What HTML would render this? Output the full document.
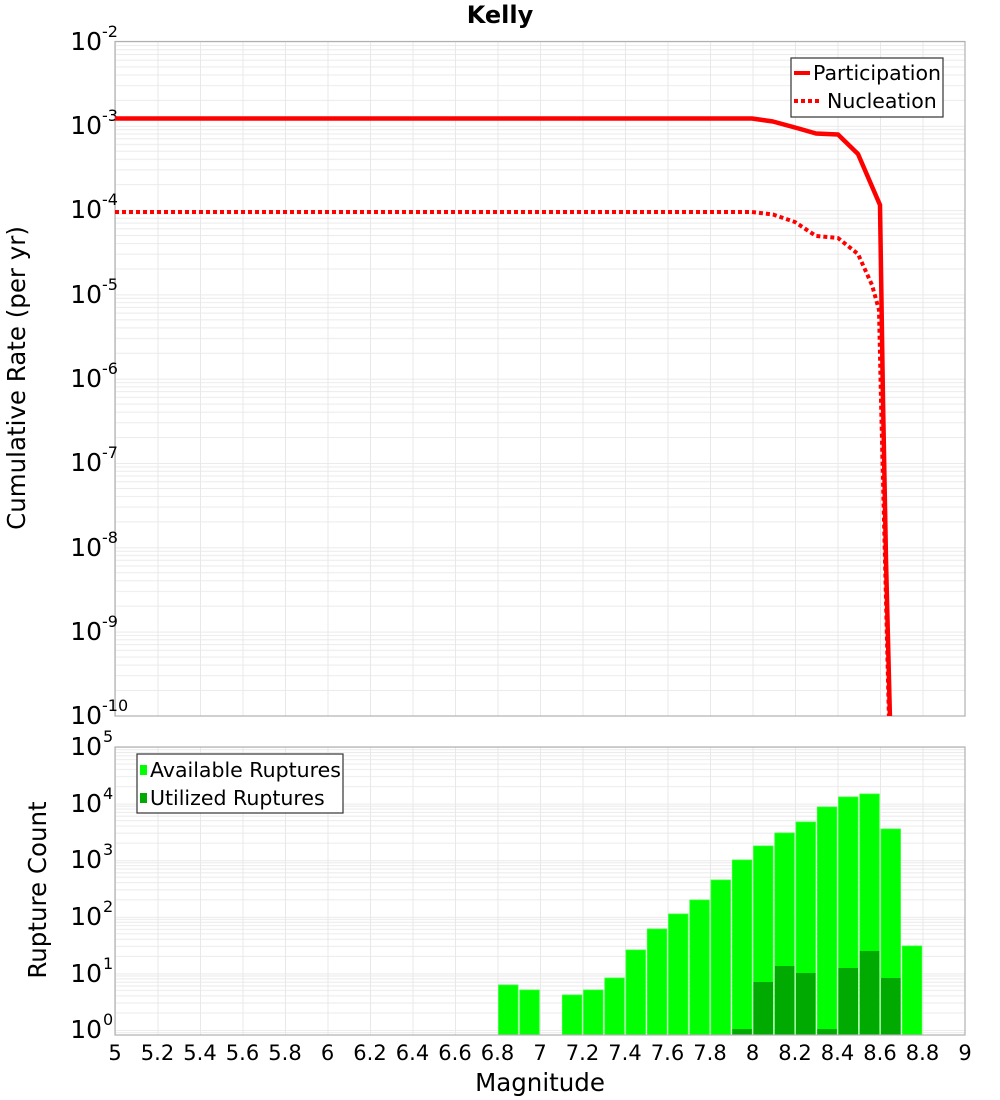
<!DOCTYPE html>
<html><head><meta charset="utf-8"><style>
html,body{margin:0;padding:0;background:#fff;}
svg{display:block;font-family:"DejaVu Sans","Liberation Sans",sans-serif;}
</style></head><body>
<svg width="1000" height="1100" viewBox="0 0 1000 1100" xmlns="http://www.w3.org/2000/svg">
<defs>
<pattern id="vg" patternUnits="userSpaceOnUse" x="115" y="0" width="42.5" height="10">
<line x1="0.5" y1="0" x2="0.5" y2="10" stroke="#e8e8e8" stroke-width="1"/>
</pattern>
<pattern id="hgt" patternUnits="userSpaceOnUse" x="0" y="41.5" width="10" height="84.3">
<g stroke="#ebebeb" stroke-width="1">
<line x1="0" y1="0.5" x2="10" y2="0.5"/><line x1="0" y1="3.9" x2="10" y2="3.9"/><line x1="0" y1="8.2" x2="10" y2="8.2"/><line x1="0" y1="13" x2="10" y2="13"/><line x1="0" y1="18.7" x2="10" y2="18.7"/><line x1="0" y1="25.4" x2="10" y2="25.4"/><line x1="0" y1="33.5" x2="10" y2="33.5"/><line x1="0" y1="44.1" x2="10" y2="44.1"/><line x1="0" y1="58.9" x2="10" y2="58.9"/>
</g></pattern>
<pattern id="hgb" patternUnits="userSpaceOnUse" x="0" y="747" width="10" height="56.6">
<g stroke="#ebebeb" stroke-width="1">
<line x1="0" y1="0.5" x2="10" y2="0.5"/><line x1="0" y1="2.6" x2="10" y2="2.6"/><line x1="0" y1="5.5" x2="10" y2="5.5"/><line x1="0" y1="8.8" x2="10" y2="8.8"/><line x1="0" y1="12.6" x2="10" y2="12.6"/><line x1="0" y1="17" x2="10" y2="17"/><line x1="0" y1="22.5" x2="10" y2="22.5"/><line x1="0" y1="29.6" x2="10" y2="29.6"/><line x1="0" y1="39.6" x2="10" y2="39.6"/>
</g></pattern>
</defs>

<text x="500" y="23" font-size="24" font-weight="bold" text-anchor="middle">Kelly</text>

<!-- top plot -->
<rect x="115" y="41.5" width="850" height="674.5" fill="url(#hgt)"/>
<rect x="115" y="41.5" width="850" height="674.5" fill="url(#vg)"/>
<rect x="115" y="41.5" width="850" height="674.5" fill="none" stroke="#b0b0b0" stroke-width="1.2"/>

<g font-size="25" text-anchor="end">
<text x="102" y="50">10</text><text x="102" y="134">10</text><text x="102" y="218">10</text><text x="102" y="303">10</text><text x="102" y="387">10</text><text x="102" y="471">10</text><text x="102" y="556">10</text><text x="102" y="640">10</text><text x="102" y="724">10</text>
</g>
<g font-size="16">
<text x="102" y="37">-2</text><text x="102" y="121">-3</text><text x="102" y="205">-4</text><text x="102" y="290">-5</text><text x="102" y="374">-6</text><text x="102" y="458">-7</text><text x="102" y="543">-8</text><text x="102" y="627">-9</text><text x="102" y="711">-10</text>
</g>
<text transform="translate(25,378) rotate(-90)" font-size="24.5" text-anchor="middle">Cumulative Rate (per yr)</text>

<svg x="115" y="41.5" width="850" height="674.5" viewBox="115 41.5 850 674.5" overflow="hidden">
<polyline fill="none" stroke="#ff0000" stroke-width="4.5" stroke-linejoin="round" points="115,118.5 752,118.5 773,121.5 795,127.5 816,133.5 838,134.5 858,154 880,205 883,400 886,560 890,720"/>
<polyline fill="none" stroke="#ff0000" stroke-width="4" stroke-dasharray="4,3" points="115,212 752,212 773,214.5 795,222 816,236 838,238 858,254 872,285 879,310 881,400 885,560 889,720"/>
</svg>

<rect x="791" y="58" width="152" height="59" fill="#fff" stroke="#333" stroke-width="1.2"/>
<line x1="794" y1="73" x2="810" y2="73" stroke="#ff0000" stroke-width="4"/>
<text x="813" y="80" font-size="20.5">Participation</text>
<line x1="794" y1="101" x2="820" y2="101" stroke="#ff0000" stroke-width="4" stroke-dasharray="4,3"/>
<text x="827" y="108" font-size="20.5">Nucleation</text>

<!-- bottom plot -->
<rect x="115" y="747" width="850" height="288" fill="url(#hgb)"/>
<rect x="115" y="747" width="850" height="288" fill="url(#vg)"/>

<g fill="#00ff00" stroke="#33ff33" stroke-width="0.8">
<rect x="498.5" y="985" width="19.5" height="50"/>
<rect x="519.8" y="990" width="19.5" height="45"/>
<rect x="562.3" y="995" width="19.5" height="40"/>
<rect x="583.5" y="990" width="19.5" height="45"/>
<rect x="604.8" y="978" width="19.5" height="57"/>
<rect x="626" y="950" width="19.5" height="85"/>
<rect x="647.3" y="929" width="19.5" height="106"/>
<rect x="668.5" y="914" width="19.5" height="121"/>
<rect x="689.8" y="900" width="19.5" height="135"/>
<rect x="711" y="880" width="19.5" height="155"/>
<rect x="732.3" y="860" width="19.5" height="175"/>
<rect x="753.5" y="846" width="19.5" height="189"/>
<rect x="774.8" y="833" width="19.5" height="202"/>
<rect x="796" y="822" width="19.5" height="213"/>
<rect x="817.3" y="807" width="19.5" height="228"/>
<rect x="838.5" y="797" width="19.5" height="238"/>
<rect x="859.8" y="794" width="19.5" height="241"/>
<rect x="881" y="829" width="19.5" height="206"/>
<rect x="902.3" y="946" width="19.5" height="89"/>
</g>
<g fill="#00aa00">
<rect x="732.3" y="1029" width="19.5" height="6"/>
<rect x="753.5" y="982" width="19.5" height="53"/>
<rect x="774.8" y="966" width="19.5" height="69"/>
<rect x="796" y="973" width="19.5" height="62"/>
<rect x="817.3" y="1029" width="19.5" height="6"/>
<rect x="838.5" y="968" width="19.5" height="67"/>
<rect x="859.8" y="951" width="19.5" height="84"/>
<rect x="881" y="978" width="19.5" height="57"/>
</g>
<rect x="115" y="747" width="850" height="288" fill="none" stroke="#b0b0b0" stroke-width="1.2"/>

<g font-size="25" text-anchor="end">
<text x="102" y="755">10</text><text x="102" y="812">10</text><text x="102" y="868">10</text><text x="102" y="925">10</text><text x="102" y="982">10</text><text x="102" y="1038">10</text>
</g>
<g font-size="16">
<text x="103" y="742">5</text><text x="103" y="799">4</text><text x="103" y="855">3</text><text x="103" y="912">2</text><text x="103" y="969">1</text><text x="103" y="1025">0</text>
</g>
<text transform="translate(46,890) rotate(-90)" font-size="24.5" text-anchor="middle">Rupture Count</text>

<rect x="137" y="754" width="206" height="59" fill="#fff" stroke="#333" stroke-width="1.2"/>
<rect x="140" y="765" width="7" height="10" fill="#00ff00"/>
<text x="150" y="777" font-size="20.5">Available Ruptures</text>
<rect x="140" y="793" width="7" height="10" fill="#00aa00"/>
<text x="150" y="805" font-size="20.5">Utilized Ruptures</text>

<g font-size="21" text-anchor="middle">
<text x="115" y="1060">5</text><text x="157.5" y="1060">5.2</text><text x="200" y="1060">5.4</text><text x="242.5" y="1060">5.6</text><text x="285" y="1060">5.8</text><text x="327.5" y="1060">6</text><text x="370" y="1060">6.2</text><text x="412.5" y="1060">6.4</text><text x="455" y="1060">6.6</text><text x="497.5" y="1060">6.8</text><text x="540" y="1060">7</text><text x="582.5" y="1060">7.2</text><text x="625" y="1060">7.4</text><text x="667.5" y="1060">7.6</text><text x="710" y="1060">7.8</text><text x="752.5" y="1060">8</text><text x="795" y="1060">8.2</text><text x="837.5" y="1060">8.4</text><text x="880" y="1060">8.6</text><text x="922.5" y="1060">8.8</text><text x="965" y="1060">9</text>
</g>
<text x="540" y="1091" font-size="24.5" text-anchor="middle">Magnitude</text>
</svg>
</body></html>
